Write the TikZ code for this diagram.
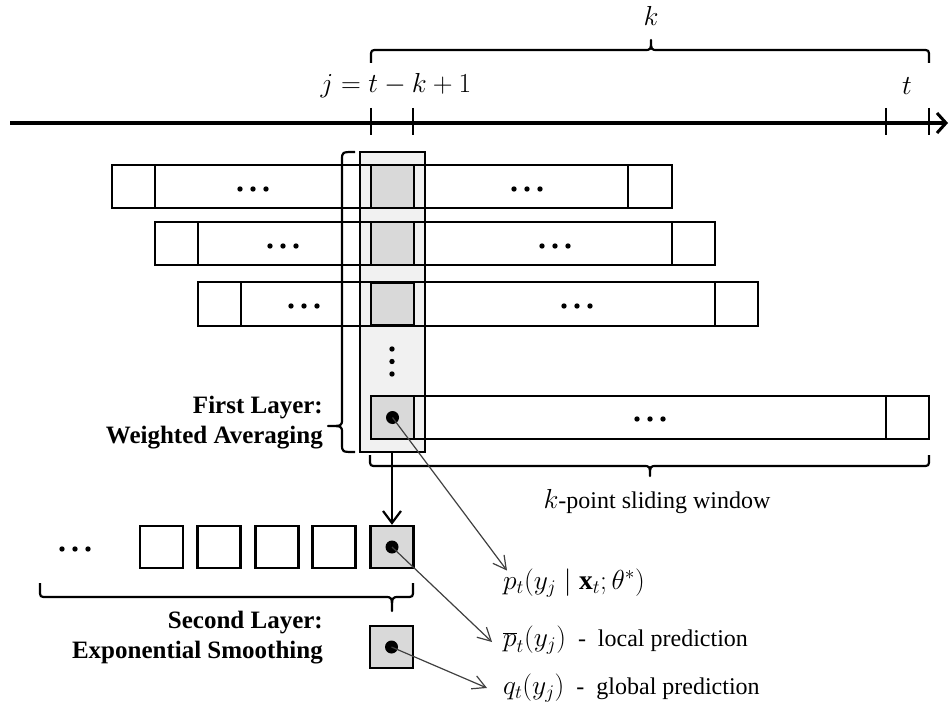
\RequirePackage{fix-cm}
\documentclass[tikz,border=0pt]{standalone}
\usepackage{fontspec}
\setmainfont{Liberation Serif}
\usetikzlibrary{arrows.meta}
\newcommand{\mth}[1]{{\fontsize{27.5}{32}\selectfont$#1$}}
\begin{document}
\begin{tikzpicture}[x=1pt,y=-1pt,
  box/.style={draw=black,line width=2.4pt},
  cellg/.style={draw=black,line width=2.4pt,fill=cellgray,inner sep=0pt,minimum width=43pt,minimum height=43pt},
  cellw/.style={draw=black,line width=2.4pt,fill=white,inner sep=0pt,minimum width=43pt,minimum height=42pt},
  bigdot/.style={fill=black},
  brc/.style={line width=2.2pt,line join=round},
  thinarrow/.style={draw=black!75,line width=1.2pt,-{Straight Barb[length=13pt,width=14pt,line width=1.2pt]}},
  txt/.style={font=\fontsize{24}{30}\selectfont,inner sep=0pt},
  btxt/.style={font=\bfseries\fontsize{25}{30}\selectfont,inner sep=0pt,align=right,anchor=east},
]
\definecolor{cellgray}{HTML}{D9D9D9}
\definecolor{colgray}{HTML}{F1F1F1}
\useasboundingbox (0,0) rectangle (951,706);

% time axis
\draw[line width=4pt,-{Straight Barb[length=9pt,width=20pt,line width=3pt]}] (10,123) -- (948,123);
\foreach \x in {371,413,886,929} \draw[line width=2.2pt] (\x,108) -- (\x,135);
\node[txt] (jlab) at (396,86) {\mth{j = t - k + 1}};
\node[txt] (tlab) at (907,86) {\mth{t}};
\draw[brc] (371,63) -- (371,57) .. controls (371,50) .. (378,50) -- (644,50) .. controls (651,50) .. (651,40) .. controls (651,50) .. (658,50) -- (922,50) .. controls (929,50) .. (929,57) -- (929,63);
\node[txt] (klab) at (651,16) {\mth{k}};

% highlighted column background
\fill[colgray] (360,152) rectangle (425,452);

% row 1
\draw[box] (112,165) rectangle (672,208);
\draw[box] (155,165) -- (155,208);
\draw[box] (628,165) -- (628,208);
% row 2
\draw[box] (155,222) rectangle (715,265);
\draw[box] (198,222) -- (198,265);
\draw[box] (672,222) -- (672,265);
% row 3
\draw[box] (198,282) rectangle (758,326);
\draw[box] (241,282) -- (241,326);
\draw[box] (715,282) -- (715,326);
% row 4
\draw[box] (371,396) rectangle (929,439);
\draw[box] (886,396) -- (886,439);

% column outline
\draw[box] (360,152) rectangle (425,452);

% gray cells in the column
\node[cellg] (g1) at (392.5,186.5) {};
\node[cellg] (g2) at (392.5,243.5) {};
\node[cellg] (g3) at (392.5,304) {};
\node[cellg] (g4) at (392.5,417.5) {};
\fill[bigdot] (g4.center) circle (6.5);

% horizontal ellipses
\foreach \cx/\cy in {253/189,527/189,283/246,555/246,304/306,577/306,650/419,75/549}
  \foreach \d in {-13,0,13} \fill (\cx+\d,\cy) circle (2.7);
% vertical ellipsis in the column
\foreach \cy in {349,361.5,374} \fill (392,\cy) circle (2.7);

% first layer brace and label
\draw[brc] (355,152) .. controls (342,152) .. (342,160) -- (342,419) .. controls (342,426) .. (328,426) .. controls (342,426) .. (342,433) -- (342,444) .. controls (342,452) .. (355,452);
\node[btxt] (first) at (323,423) {First Layer:\\Weighted Averaging};

% sliding window brace
\draw[brc] (370,455) -- (370,459) .. controls (370,466) .. (377,466) -- (643,466) .. controls (650,466) .. (650,476) .. controls (650,466) .. (657,466) -- (922,466) .. controls (929,466) .. (929,459) -- (929,455);
\node[txt] (win) at (657,502) {\mth{k}-point sliding window};

% second layer
\node[cellw] (s1) at (161.5,547) {};
\node[cellw] (s2) at (219,547) {};
\node[cellw] (s3) at (277,547) {};
\node[cellw] (s4) at (334,547) {};
\node[cellg,minimum height=42pt] (s5) at (392,547) {};
\fill[bigdot] (s5.center) circle (6.5);
\coordinate (colbot) at (392,452);
\draw[line width=2.2pt,-{Straight Barb[length=12pt,width=18pt,line width=2.2pt]}] (colbot) -- (s5.north);

\draw[brc] (40,583) -- (40,590) .. controls (40,597) .. (47,597) -- (385,597) .. controls (392,597) .. (392,611) .. controls (392,597) .. (399,597) -- (406,597) .. controls (413,597) .. (413,590) -- (413,583);
\node[btxt] (second) at (323,638) {Second Layer:\\Exponential Smoothing};

\node[cellg,minimum height=42pt] (fin) at (391.5,647) {};
\fill[bigdot] (fin.center) circle (6.5);

% output labels
\node[txt,anchor=west] (plab) at (503,583) {\mth{p_t(y_j \mid \mathbf{x}_t;\theta^{*})}};
\node[txt,anchor=west] (pbar) at (503,640) {\mth{\overline{p}_t(y_j)}\ \ -\ \ local prediction};
\node[txt,anchor=west] (qlab) at (503,688) {\mth{q_t(y_j)}\ \ -\ \ global prediction};

\draw[thinarrow] (g4.center) -- ([xshift=4pt,yshift=-2pt]plab.north west);
\draw[thinarrow] (s5.center) -- ([xshift=-11pt,yshift=-2pt]pbar.west);
\draw[thinarrow] (fin.center) -- ([xshift=-16pt,yshift=0pt]qlab.west);
\end{tikzpicture}
\end{document}
